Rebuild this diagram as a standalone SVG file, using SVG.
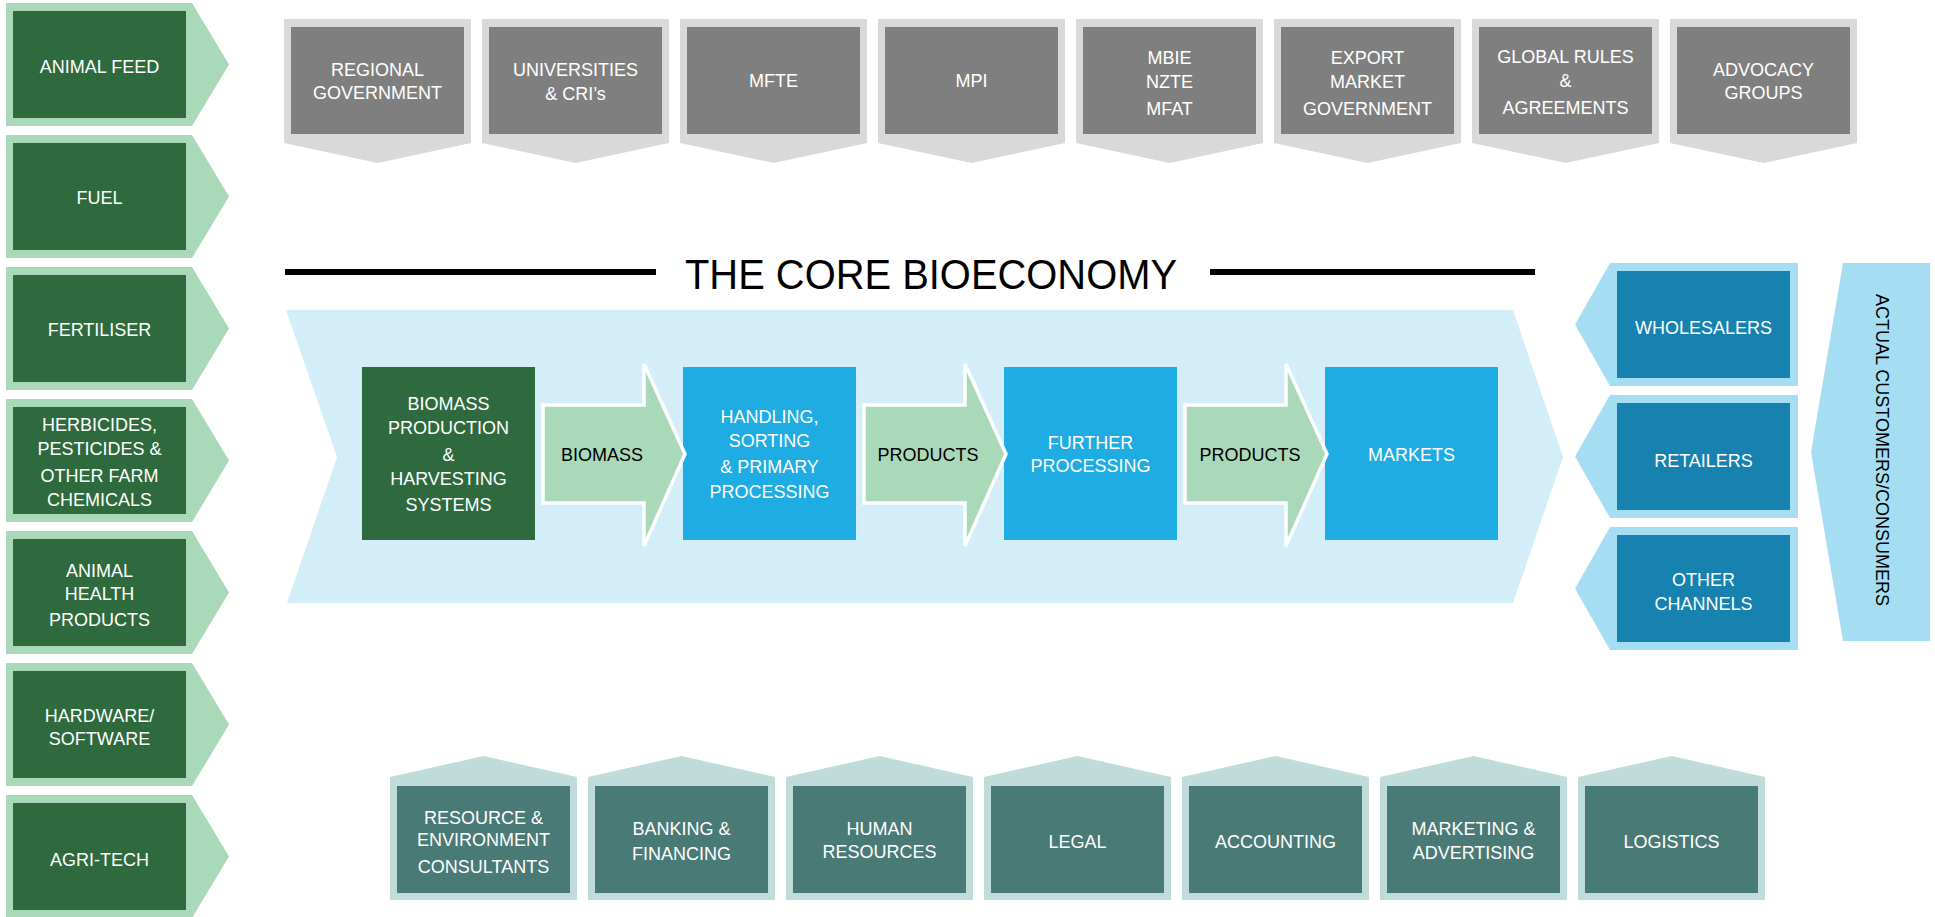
<svg xmlns="http://www.w3.org/2000/svg" width="1935" height="917" viewBox="0 0 1935 917">
<style>
  text { font-family: "Liberation Sans", Arial, sans-serif; font-size: 18px; text-anchor: middle; }
  .w { fill: #FFFFFF; }
  .k { fill: #000000; }
  .lg { fill: #A9D9B8; }
  .dg { fill: #2E6A3E; }
  .go { fill: #D9D9D9; }
  .gi { fill: #7F7F7F; }
  .to { fill: #BFDCDB; }
  .ti { fill: #4A7A76; }
  .bo { fill: #A5DEF3; }
  .bi { fill: #1782AF; }
  .bb { fill: #1EACE3; }
  .arrow { fill: #A9D9B8; stroke: #FFFFFF; stroke-width: 3.5; stroke-linejoin: miter; }
</style>

<rect x="0" y="0" width="1935" height="917" fill="#FFFFFF"/>

<!-- Left input suppliers -->
<g id="animal-feed"><polygon class="lg" points="6,3 192,3 229,64.5 192,126 6,126"/><rect class="dg" x="13" y="11" width="173" height="107"/><text class="w" x="99.5" y="73">ANIMAL FEED</text></g>
<g id="fuel"><polygon class="lg" points="6,135 192,135 229,196.5 192,258 6,258"/><rect class="dg" x="13" y="143" width="173" height="107"/><text class="w" x="99.5" y="204">FUEL</text></g>
<g id="fertiliser"><polygon class="lg" points="6,267 192,267 229,328.5 192,390 6,390"/><rect class="dg" x="13" y="275" width="173" height="107"/><text class="w" x="99.5" y="336">FERTILISER</text></g>
<g id="herbicides"><polygon class="lg" points="6,399 192,399 229,460.5 192,522 6,522"/><rect class="dg" x="13" y="407" width="173" height="107"/><text class="w" x="99.5" y="431">HERBICIDES,</text><text class="w" x="99.5" y="455">PESTICIDES &amp;</text><text class="w" x="99.5" y="482">OTHER FARM</text><text class="w" x="99.5" y="506">CHEMICALS</text></g>
<g id="animal-health"><polygon class="lg" points="6,531 192,531 229,592.5 192,654 6,654"/><rect class="dg" x="13" y="539" width="173" height="107"/><text class="w" x="99.5" y="577">ANIMAL</text><text class="w" x="99.5" y="600">HEALTH</text><text class="w" x="99.5" y="626">PRODUCTS</text></g>
<g id="hardware-software"><polygon class="lg" points="6,663 192,663 229,724.5 192,786 6,786"/><rect class="dg" x="13" y="671" width="173" height="107"/><text class="w" x="99.5" y="722">HARDWARE/</text><text class="w" x="99.5" y="745">SOFTWARE</text></g>
<g id="agri-tech"><polygon class="lg" points="6,795 192,795 229,856.5 192,918 6,918"/><rect class="dg" x="13" y="803" width="173" height="107"/><text class="w" x="99.5" y="866">AGRI-TECH</text></g>

<!-- Top: government & institutions -->
<g id="regional-government"><polygon class="go" points="284,19 471,19 471,143 377.5,163 284,143"/><rect class="gi" x="291" y="27" width="173" height="107"/><text class="w" x="377.5" y="76">REGIONAL</text><text class="w" x="377.5" y="99">GOVERNMENT</text></g>
<g id="universities"><polygon class="go" points="482,19 669,19 669,143 575.5,163 482,143"/><rect class="gi" x="489" y="27" width="173" height="107"/><text class="w" x="575.5" y="75.5">UNIVERSITIES</text><text class="w" x="575.5" y="99.5">&amp; CRI’s</text></g>
<g id="mfte"><polygon class="go" points="680,19 867,19 867,143 773.5,163 680,143"/><rect class="gi" x="687" y="27" width="173" height="107"/><text class="w" x="773.5" y="87">MFTE</text></g>
<g id="mpi"><polygon class="go" points="878,19 1065,19 1065,143 971.5,163 878,143"/><rect class="gi" x="885" y="27" width="173" height="107"/><text class="w" x="971.5" y="87">MPI</text></g>
<g id="mbie-nzte-mfat"><polygon class="go" points="1076,19 1263,19 1263,143 1169.5,163 1076,143"/><rect class="gi" x="1083" y="27" width="173" height="107"/><text class="w" x="1169.5" y="63.5">MBIE</text><text class="w" x="1169.5" y="87.5">NZTE</text><text class="w" x="1169.5" y="114.5">MFAT</text></g>
<g id="export-market-government"><polygon class="go" points="1274,19 1461,19 1461,143 1367.5,163 1274,143"/><rect class="gi" x="1281" y="27" width="173" height="107"/><text class="w" x="1367.5" y="63.5">EXPORT</text><text class="w" x="1367.5" y="87.5">MARKET</text><text class="w" x="1367.5" y="114.5">GOVERNMENT</text></g>
<g id="global-rules"><polygon class="go" points="1472,19 1659,19 1659,143 1565.5,163 1472,143"/><rect class="gi" x="1479" y="27" width="173" height="107"/><text class="w" x="1565.5" y="62.5">GLOBAL RULES</text><text class="w" x="1565.5" y="86.5">&amp;</text><text class="w" x="1565.5" y="113.5">AGREEMENTS</text></g>
<g id="advocacy-groups"><polygon class="go" points="1670,19 1857,19 1857,143 1763.5,163 1670,143"/><rect class="gi" x="1677" y="27" width="173" height="107"/><text class="w" x="1763.5" y="76">ADVOCACY</text><text class="w" x="1763.5" y="99">GROUPS</text></g>

<!-- Title -->
<g id="title">
  <line x1="285" y1="272" x2="656" y2="272" stroke="#000000" stroke-width="6"/>
  <line x1="1210" y1="272" x2="1535" y2="272" stroke="#000000" stroke-width="6"/>
  <text x="931" y="289" style="font-size:42px" fill="#000000" textLength="492" lengthAdjust="spacingAndGlyphs">THE CORE BIOECONOMY</text>
</g>

<!-- Core bioeconomy band -->
<g id="core-band"><polygon fill="#D3EEF8" points="286,310 1513,310 1563,457 1513,603 287,603 337,457"/></g>

<!-- Process boxes -->
<g id="biomass-production"><rect class="dg" x="362" y="367" width="173" height="173"/><text class="w" x="448.5" y="410">BIOMASS</text><text class="w" x="448.5" y="433.5">PRODUCTION</text><text class="w" x="448.5" y="461">&amp;</text><text class="w" x="448.5" y="484.5">HARVESTING</text><text class="w" x="448.5" y="511">SYSTEMS</text></g>
<g id="handling-primary-processing"><rect class="bb" x="683" y="367" width="173" height="173"/><text class="w" x="769.5" y="423">HANDLING,</text><text class="w" x="769.5" y="447">SORTING</text><text class="w" x="769.5" y="473">&amp; PRIMARY</text><text class="w" x="769.5" y="498">PROCESSING</text></g>
<g id="further-processing"><rect class="bb" x="1004" y="367" width="173" height="173"/><text class="w" x="1090.5" y="448.5">FURTHER</text><text class="w" x="1090.5" y="471.5">PROCESSING</text></g>
<g id="markets"><rect class="bb" x="1325" y="367" width="173" height="173"/><text class="w" x="1411.5" y="461">MARKETS</text></g>

<!-- Connectors (block arrows) -->
<g id="connectors">
  <g id="arrow-biomass"><polygon class="arrow" points="543,405 644,405 644,364 685,454 644,546 644,503 543,503"/><text class="k" x="602" y="461">BIOMASS</text></g>
  <g id="arrow-products-1"><polygon class="arrow" points="864,405 965,405 965,364 1006,454 965,546 965,503 864,503"/><text class="k" x="928" y="461">PRODUCTS</text></g>
  <g id="arrow-products-2"><polygon class="arrow" points="1185,405 1286,405 1286,364 1327,454 1286,546 1286,503 1185,503"/><text class="k" x="1250" y="461">PRODUCTS</text></g>
</g>

<!-- Right: channels -->
<g id="wholesalers"><polygon class="bo" points="1610,263 1798,263 1798,386 1610,386 1575,324.5"/><rect class="bi" x="1617" y="271" width="173" height="107"/><text class="w" x="1703.5" y="333.5">WHOLESALERS</text></g>
<g id="retailers"><polygon class="bo" points="1610,395 1798,395 1798,518 1610,518 1575,456.5"/><rect class="bi" x="1617" y="403" width="173" height="107"/><text class="w" x="1703.5" y="466.5">RETAILERS</text></g>
<g id="other-channels"><polygon class="bo" points="1610,527 1798,527 1798,650 1610,650 1575,588.5"/><rect class="bi" x="1617" y="535" width="173" height="107"/><text class="w" x="1703.5" y="585.5">OTHER</text><text class="w" x="1703.5" y="609.5">CHANNELS</text></g>

<g id="actual-customers"><polygon class="bo" points="1843,263 1930,263 1930,641 1843,641 1811,452"/><text class="k" x="1882" y="456.4" transform="rotate(90 1882 450)">ACTUAL CUSTOMERS/CONSUMERS</text></g>

<!-- Bottom: services -->
<g id="resource-environment"><polygon class="to" points="390,777 483.5,756 577,777 577,900 390,900"/><rect class="ti" x="397" y="786" width="173" height="107"/><text class="w" x="483.5" y="823.5">RESOURCE &amp;</text><text class="w" x="483.5" y="845.5">ENVIRONMENT</text><text class="w" x="483.5" y="872.5">CONSULTANTS</text></g>
<g id="banking-financing"><polygon class="to" points="588,777 681.5,756 775,777 775,900 588,900"/><rect class="ti" x="595" y="786" width="173" height="107"/><text class="w" x="681.5" y="834.5">BANKING &amp;</text><text class="w" x="681.5" y="859.5">FINANCING</text></g>
<g id="human-resources"><polygon class="to" points="786,777 879.5,756 973,777 973,900 786,900"/><rect class="ti" x="793" y="786" width="173" height="107"/><text class="w" x="879.5" y="834.5">HUMAN</text><text class="w" x="879.5" y="858">RESOURCES</text></g>
<g id="legal"><polygon class="to" points="984,777 1077.5,756 1171,777 1171,900 984,900"/><rect class="ti" x="991" y="786" width="173" height="107"/><text class="w" x="1077.5" y="847.5">LEGAL</text></g>
<g id="accounting"><polygon class="to" points="1182,777 1275.5,756 1369,777 1369,900 1182,900"/><rect class="ti" x="1189" y="786" width="173" height="107"/><text class="w" x="1275.5" y="847.5">ACCOUNTING</text></g>
<g id="marketing-advertising"><polygon class="to" points="1380,777 1473.5,756 1567,777 1567,900 1380,900"/><rect class="ti" x="1387" y="786" width="173" height="107"/><text class="w" x="1473.5" y="834.5">MARKETING &amp;</text><text class="w" x="1473.5" y="858.5">ADVERTISING</text></g>
<g id="logistics"><polygon class="to" points="1578,777 1671.5,756 1765,777 1765,900 1578,900"/><rect class="ti" x="1585" y="786" width="173" height="107"/><text class="w" x="1671.5" y="847.5">LOGISTICS</text></g>
</svg>
